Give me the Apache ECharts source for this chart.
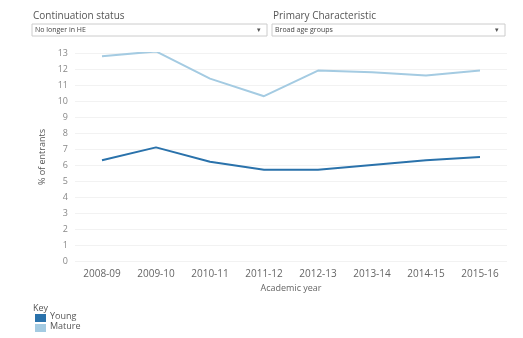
<!DOCTYPE html>
<html>
<head>
<meta charset="utf-8">
<script src="https://cdn.jsdelivr.net/npm/echarts@6/dist/echarts.min.js"></script>
<style>
  html, body { margin: 0; padding: 0; background: #fff; }
  #chart { width: 523px; height: 338px; }
</style>
</head>
<body>
<div id="chart"></div>
<script>
const years = ['2008-09', '2009-10', '2010-11', '2011-12', '2012-13', '2013-14', '2014-15', '2015-16'];
const young = [6.3, 7.1, 6.2, 5.7, 5.7, 6.0, 6.3, 6.5];
const mature = [12.8, 13.1, 11.4, 10.3, 11.9, 11.8, 11.6, 11.9];

const youngColor = '#2a72ab';
const matureColor = '#a4cbe2';
const font = '"Open Sans", "Noto Sans", sans-serif';

// dropdown-looking filter boxes above the plot
function dropdown(x, w, title, value) {
  return [
    { type: 'text', left: x + 1, top: 11, style: { text: title, font: '10px ' + font, fill: '#555' } },
    { type: 'rect', shape: { x: x, y: 24, width: w, height: 12 }, style: { fill: '#fff', stroke: '#ccc', lineWidth: 1 } },
    { type: 'text', left: x + 3, top: 26, style: { text: value, font: '7px ' + font, fill: '#444' } },
    { type: 'text', left: x + w - 10, top: 26, style: { text: '▾', font: '7px ' + font, fill: '#555' } },
  ];
}

const chart = echarts.init(document.getElementById('chart'));

chart.setOption({
  animation: false,
  grid: { left: 75, right: 16, top: 53, bottom: 77 },
  xAxis: {
    type: 'category',
    data: years,
    boundaryGap: true,
    name: 'Academic year',
    nameLocation: 'middle',
    nameGap: 21,
    nameTextStyle: { color: '#666', fontSize: 9, fontFamily: font },
    axisLine: { show: false },
    axisTick: { show: false },
    axisLabel: { color: '#666', fontSize: 10, fontFamily: font, margin: 8 },
  },
  yAxis: {
    type: 'value',
    min: 0,
    max: 13,
    interval: 1,
    name: '% of entrants',
    nameLocation: 'middle',
    nameGap: 24,
    nameTextStyle: { color: '#555', fontSize: 9, fontFamily: font },
    axisLabel: { color: '#888', fontSize: 9, fontFamily: font, margin: 7 },
    splitLine: { lineStyle: { color: '#f2f2f2' } },
  },
  series: [
    {
      name: 'Young',
      type: 'line',
      data: young,
      symbol: 'none',
      lineStyle: { color: youngColor, width: 2 },
      itemStyle: { color: youngColor },
    },
    {
      name: 'Mature',
      type: 'line',
      data: mature,
      symbol: 'none',
      lineStyle: { color: matureColor, width: 2 },
      itemStyle: { color: matureColor },
    },
  ],
  graphic: [
    ...dropdown(32, 235, 'Continuation status', 'No longer in HE'),
    ...dropdown(272, 233, 'Primary Characteristic', 'Broad age groups'),
    { type: 'text', left: 33, top: 304, style: { text: 'Key', font: '9px ' + font, fill: '#555' } },
    { type: 'rect', shape: { x: 35, y: 314, width: 11, height: 8 }, style: { fill: youngColor } },
    { type: 'text', left: 50, top: 312, style: { text: 'Young', font: '9px ' + font, fill: '#555' } },
    { type: 'rect', shape: { x: 35, y: 324, width: 11, height: 8 }, style: { fill: matureColor } },
    { type: 'text', left: 50, top: 322, style: { text: 'Mature', font: '9px ' + font, fill: '#555' } },
  ],
});
</script>
</body>
</html>
